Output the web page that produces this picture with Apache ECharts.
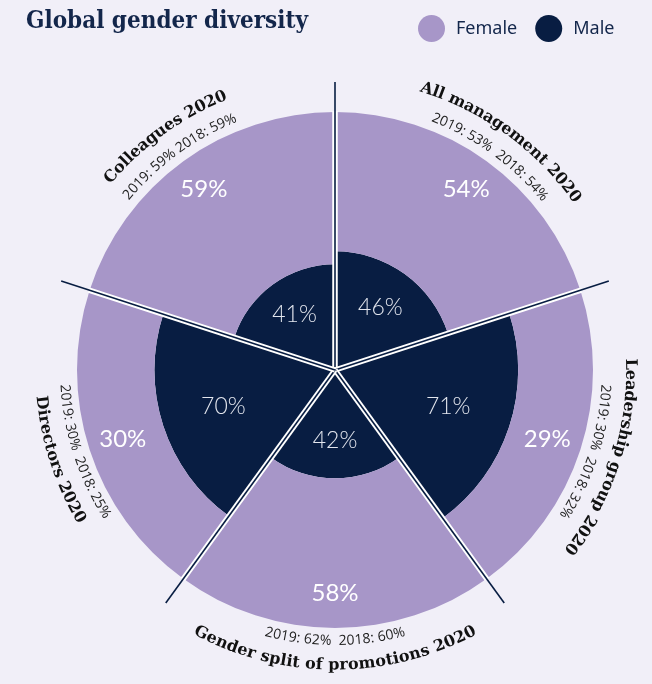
<!DOCTYPE html>
<html><head><meta charset="utf-8">
<script src="https://cdn.jsdelivr.net/npm/echarts@6/dist/echarts.min.js"></script>
<style>html,body{margin:0;padding:0;background:#f1eff8;} #c{width:652px;height:684px;}</style>
</head><body><div id="c"></div>
<script>
// ---- data ----
const categories = ['All management 2020', 'Leadership group 2020', 'Gender split of promotions 2020', 'Directors 2020', 'Colleagues 2020'];
const female = [54, 29, 58, 30, 59];
const male = [46, 71, 42, 70, 41];
const history = ['2019: 53%  2018: 54%', '2019: 30%  2018: 32%', '2019: 62%  2018: 60%', '2019: 30%  2018: 25%', '2019: 59% 2018: 59%'];
const seriesNames = ['Female', 'Male'];

// ---- style ----
const NAVY = '#081d42', LILAC = '#a796c8', BG = '#f1eff8';
const TITLE_FONT = 'bold 16px "DejaVu Serif", serif';
const YEAR_FONT = '14px "Open Sans", sans-serif';
const R_TITLE = 114.5, R_YEARS = 105, R_FEMALE_LABEL = 86.5, MALE_LABEL_FACTOR = 0.65, R_LINE = 111.6;

const chart = echarts.init(document.getElementById('c'));
const mctx = document.createElement('canvas').getContext('2d');

function arcText(text, font, color, cx, cy, r, theta, clockwise) {
  mctx.font = font;
  const chars = Array.from(text);
  const widths = chars.map(ch => mctx.measureText(ch).width);
  const total = widths.reduce((a, b) => a + b, 0);
  let s = -total / 2;
  const out = [];
  chars.forEach((ch, k) => {
    const sc = s + widths[k] / 2; s += widths[k];
    const phi = clockwise ? theta - sc / r : theta + sc / r;
    const rot = clockwise ? phi - Math.PI / 2 : phi + Math.PI / 2;
    out.push({type: 'text', x: cx + r * Math.cos(phi), y: cy - r * Math.sin(phi), rotation: rot, silent: true,
      style: {text: ch, font: font, fill: color, align: 'center', verticalAlign: 'middle'}});
  });
  return out;
}

function polarInfo(api, rv, a) {
  const c = api.coord([0, a]);
  const p = api.coord([rv, a]);
  const dx = p[0] - c[0], dy = p[1] - c[1];
  return {c, p, r: Math.sqrt(dx * dx + dy * dy), theta: Math.atan2(-dy, dx)};
}

function renderDivider(params, api) {
  const a = api.value(1);
  const c = api.coord([0, a]);
  const pO = api.coord([100.3, a]);
  const pE = api.coord([R_LINE, a]);
  return {type: 'group', children: [
    {type: 'line', shape: {x1: c[0], y1: c[1], x2: pO[0], y2: pO[1]}, style: {stroke: '#ffffff', lineWidth: 5.5}},
    {type: 'line', shape: {x1: c[0], y1: c[1], x2: pE[0], y2: pE[1]}, style: {stroke: NAVY, lineWidth: 1.6}}
  ]};
}

function renderLabels(params, api) {
  const i = params.dataIndex;
  const mv = api.value(0);
  const a = api.value(1);
  const t = polarInfo(api, R_TITLE, a);
  const y = polarInfo(api, R_YEARS, a);
  const fl = polarInfo(api, R_FEMALE_LABEL, a);
  const ml = polarInfo(api, mv * MALE_LABEL_FACTOR, a);
  const deg = t.theta * 180 / Math.PI;
  const topMode = deg > -60;
  const children = [];
  children.push(...arcText(categories[i], TITLE_FONT, '#111111', t.c[0], t.c[1], t.r, t.theta, topMode));
  children.push(...arcText(history[i], YEAR_FONT, '#222222', y.c[0], y.c[1], y.r, y.theta, topMode));
  children.push({type: 'text', x: fl.p[0], y: fl.p[1], silent: true,
    style: {text: female[i] + '%', font: '24px Lato, sans-serif', fill: '#ffffff', align: 'center', verticalAlign: 'middle'}});
  children.push({type: 'text', x: ml.p[0], y: ml.p[1], silent: true,
    style: {text: mv + '%', font: '300 23px Lato, sans-serif', fill: '#e3e6ee', align: 'center', verticalAlign: 'middle'}});
  return {type: 'group', children};
}

const hiddenAngle = {axisLine: {show: false}, axisTick: {show: false}, axisLabel: {show: false}, splitLine: {show: false}, splitArea: {show: false}};

const option = {
  backgroundColor: BG,
  animation: false,
  title: {text: 'Global gender diversity', left: 21, top: 5,
    textStyle: {fontFamily: '"DejaVu Serif Condensed", "DejaVu Serif", serif', fontWeight: 'bold', fontSize: 24, color: '#13264b'}},
  legend: {data: seriesNames, left: 413, top: 10, icon: 'circle', itemWidth: 27, itemHeight: 27, itemGap: 18,
    textStyle: {fontFamily: '"Noto Sans", sans-serif', fontSize: 18, color: '#13264b', padding: [0, 0, 0, 6]}},
  polar: [{center: [335, 370], radius: 258}, {center: [335, 370], radius: 258}],
  angleAxis: [
    Object.assign({polarIndex: 0, type: 'category', data: categories, startAngle: 90, clockwise: true}, hiddenAngle),
    Object.assign({polarIndex: 1, type: 'value', min: 0, max: 5, startAngle: 90, clockwise: true}, hiddenAngle)
  ],
  radiusAxis: [
    {polarIndex: 0, type: 'value', min: 0, max: 100, show: false},
    {polarIndex: 1, type: 'value', min: 0, max: 100, show: false}
  ],
  series: [
    {name: 'Male', type: 'bar', coordinateSystem: 'polar', polarIndex: 0, stack: 'g', data: male, barCategoryGap: '0%', itemStyle: {color: NAVY}, silent: true},
    {name: 'Female', type: 'bar', coordinateSystem: 'polar', polarIndex: 0, stack: 'g', data: female, barCategoryGap: '0%', itemStyle: {color: LILAC}, silent: true},
    {type: 'custom', coordinateSystem: 'polar', polarIndex: 1, data: [0, 1, 2, 3, 4].map(k => [100, k]), renderItem: renderDivider, z: 5, silent: true},
    {type: 'custom', coordinateSystem: 'polar', polarIndex: 1, data: categories.map((c, i) => [male[i], i + 0.5]), renderItem: renderLabels, z: 6, silent: true}
  ]
};
chart.setOption(option);
</script></body></html>
